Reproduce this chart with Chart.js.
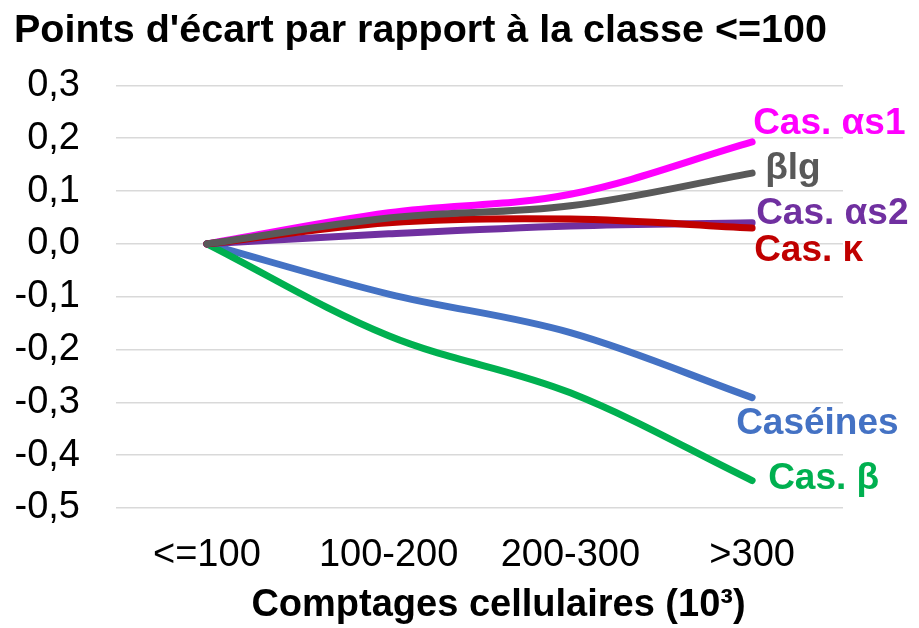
<!DOCTYPE html>
<html lang="fr">
<head>
    <meta charset="UTF-8">
    <title>Points d'écart</title>
    <script src="https://cdn.jsdelivr.net/npm/chart.js@4.4.1/dist/chart.umd.min.js"></script>
    <style>
        html, body { margin: 0; padding: 0; background: #fff; }
        #wrap { width: 919px; height: 628px; position: relative; }
    </style>
</head>
<body>
    <div id="wrap"><canvas id="chart_area"></canvas></div>
    <script>
        // données
        const categories = ['<=100', '100-200', '200-300', '>300'];
        const yTicks = [0.3, 0.2, 0.1, 0.0, -0.1, -0.2, -0.3, -0.4, -0.5];

        const seriesNames = ['βlg', 'Cas. κ', 'Cas. αs2', 'Cas. αs1', 'Cas. β', 'Caséines'];
        const blg      = [0, 0.049, 0.072, 0.134];
        const casKappa = [0, 0.040, 0.047, 0.030];
        const casAs2   = [0, 0.019, 0.034, 0.040];
        const casAs1   = [0, 0.059, 0.094, 0.193];
        const casBeta  = [0, -0.174, -0.282, -0.448];
        const caseines = [0, -0.095, -0.168, -0.291];

        const seriesValues = [blg, casKappa, casAs2, casAs1, casBeta, caseines];
        const seriesColors = ['#595959', '#C00000', '#7030A0', '#FF00FF', '#00B050', '#4472C4'];
        // décalage des étiquettes par rapport au dernier point (dx, dy)
        const labelOffsets = [[13, -4], [2, 23], [4, -9], [1, -18], [16, -2], [-16, 26]];

        const FONT = '"Liberation Sans", Arial, sans-serif';

        const endLabels = {
            id: 'endLabels',
            afterDatasetsDraw(chart) {
                const ctx = chart.ctx;
                ctx.save();
                ctx.font = 'bold 37px ' + FONT;
                ctx.textBaseline = 'middle';
                ctx.textAlign = 'left';
                chart.data.datasets.forEach((ds, i) => {
                    const pts = chart.getDatasetMeta(i).data;
                    const last = pts[pts.length - 1];
                    ctx.fillStyle = ds.borderColor;
                    ctx.fillText(ds.label, last.x + labelOffsets[i][0], last.y + labelOffsets[i][1]);
                });
                ctx.restore();
            }
        };

        const datasets = seriesNames.map((name, i) => ({
            label: name,
            data: seriesValues[i],
            borderColor: seriesColors[i],
            backgroundColor: seriesColors[i],
            borderWidth: 7,
            borderCapStyle: 'round',
            borderJoinStyle: 'round',
            pointRadius: 0,
            tension: 0.35,
            fill: false
        }));

        const config = {
            type: 'line',
            data: { labels: categories, datasets: datasets },
            options: {
                responsive: true,
                maintainAspectRatio: false,
                animation: false,
                layout: { padding: { left: 14, right: 76, top: 6, bottom: 0 } },
                plugins: {
                    legend: { display: false },
                    tooltip: { enabled: false },
                    title: {
                        display: true,
                        text: "Points d'écart par rapport à la classe <=100",
                        align: 'start',
                        color: '#000',
                        font: { family: FONT, size: 39.5, weight: 'bold' },
                        padding: { top: 1, bottom: 31 }
                    }
                },
                scales: {
                    x: {
                        offset: true,
                        grid: { display: false, drawTicks: false },
                        border: { display: false },
                        afterFit(scale) { scale.height = 120; },
                        ticks: {
                            color: '#000',
                            padding: 25,
                            maxRotation: 0,
                            minRotation: 0,
                            autoSkip: false,
                            font: { family: FONT, size: 38 }
                        },
                        title: {
                            display: true,
                            text: '\u2002\u2002Comptages cellulaires (10³)',
                            color: '#000',
                            padding: { top: 6, bottom: 0 },
                            font: { family: FONT, size: 38, weight: 'bold' }
                        }
                    },
                    y: {
                        min: -0.5,
                        max: 0.3,
                        afterBuildTicks(scale) {
                            scale.ticks = yTicks.map(v => ({ value: v }));
                        },
                        afterFit(scale) { scale.width = 102; },
                        grid: { color: '#d9d9d9', lineWidth: 1.5, drawTicks: false },
                        border: { display: false },
                        ticks: {
                            color: '#000',
                            padding: 36,
                            font: { family: FONT, size: 38 },
                            callback: v => v.toFixed(1).replace('.', ',').replace('-0,0', '0,0')
                        }
                    }
                }
            },
            plugins: [endLabels]
        };

        window.myChart = new Chart(document.getElementById('chart_area').getContext('2d'), config);
    </script>
</body>
</html>
